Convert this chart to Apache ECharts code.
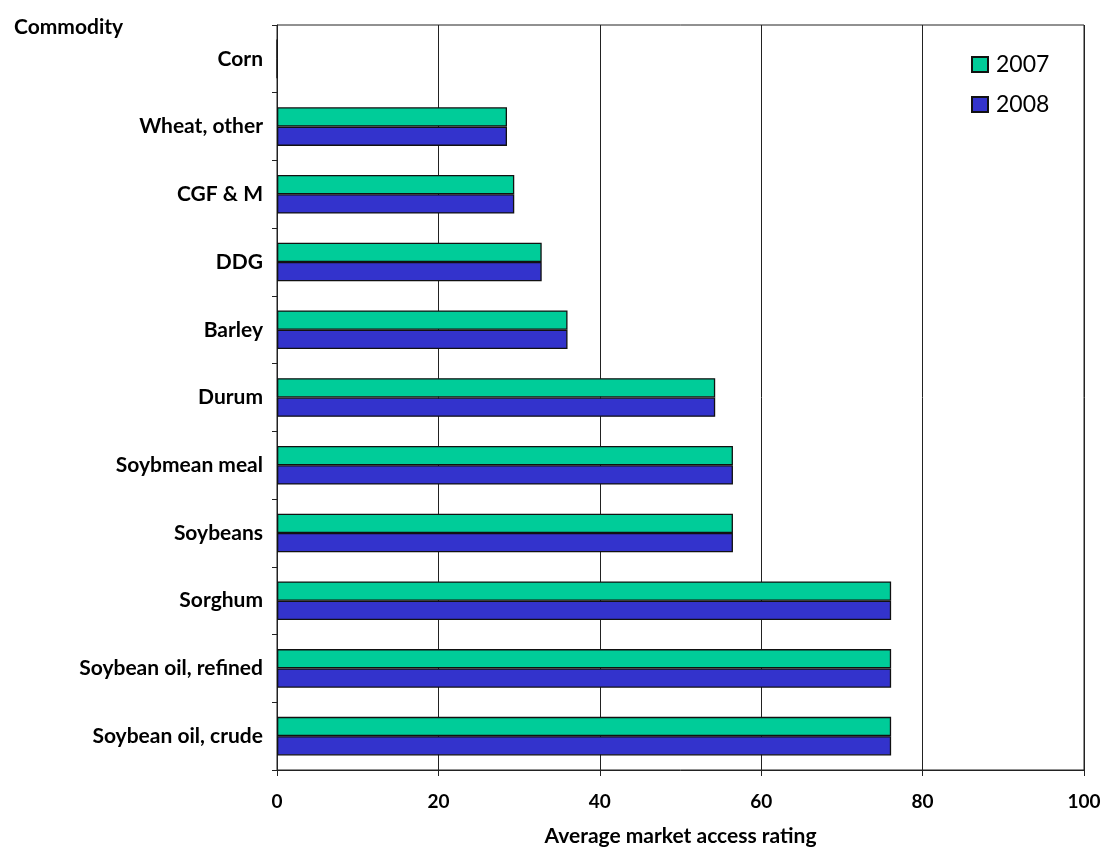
<!DOCTYPE html>
<html>
<head>
<meta charset="utf-8">
<script src="https://cdn.jsdelivr.net/npm/echarts@6/dist/echarts.min.js"></script>
<style>
  html, body { margin: 0; padding: 0; background: #fff; }
  #chart { width: 1104px; height: 848px; }
</style>
</head>
<body>
<div id="chart"></div>
<script>
// Commodities, listed top to bottom
const commodities = [
  'Corn', 'Wheat, other', 'CGF & M', 'DDG', 'Barley', 'Durum',
  'Soybmean meal', 'Soybeans', 'Sorghum', 'Soybean oil, refined', 'Soybean oil, crude'
];
const rating2007 = [0, 28.5, 29.4, 32.8, 36.0, 54.3, 56.5, 56.5, 76.1, 76.1, 76.1];
const rating2008 = [0, 28.5, 29.4, 32.8, 36.0, 54.3, 56.5, 56.5, 76.1, 76.1, 76.1];
const seriesNames = ['2007', '2008'];
const xTicks = { min: 0, max: 100, interval: 20 };

const FONT = 'Lato';
const chart = echarts.init(document.getElementById('chart'), null, { renderer: 'canvas' });

chart.setOption({
  backgroundColor: '#ffffff',
  animation: false,
  textStyle: { fontFamily: FONT },
  title: {
    text: 'Commodity',
    left: 9,
    top: 12,
    textStyle: { fontFamily: FONT, fontWeight: 'bold', fontSize: 21, color: '#000' }
  },
  legend: {
    data: seriesNames,
    orient: 'vertical',
    left: 966,
    top: 48,
    itemWidth: 16,
    itemHeight: 15,
    itemGap: 17,
    icon: 'rect',
    textStyle: { fontFamily: FONT, fontSize: 23, color: '#000', padding: [0, 0, 0, 3] }
  },
  grid: {
    left: 277,
    top: 25,
    right: 20,
    bottom: 78,
    outerBoundsMode: 'none',
    show: true,
    borderColor: '#222',
    borderWidth: 1
  },
  xAxis: {
    type: 'value',
    min: xTicks.min,
    max: xTicks.max,
    interval: xTicks.interval,
    name: 'Average market access rating',
    nameLocation: 'middle',
    nameGap: 56,
    nameTextStyle: { fontFamily: FONT, fontWeight: 'bold', fontSize: 21, color: '#000' },
    axisLine: { show: true, lineStyle: { color: '#222', width: 1 } },
    axisTick: { show: true, length: 6, lineStyle: { color: '#222' } },
    axisLabel: { margin: 22, fontFamily: FONT, fontWeight: 'bold', fontSize: 19, color: '#000' },
    splitLine: { show: true, lineStyle: { color: '#222', width: 1 } }
  },
  yAxis: {
    type: 'category',
    data: commodities,
    inverse: true,
    axisLine: { show: true, lineStyle: { color: '#222', width: 1 } },
    axisTick: { show: true, length: 5, inside: false, lineStyle: { color: '#222' } },
    axisLabel: { margin: 14, fontFamily: FONT, fontWeight: 'bold', fontSize: 21, color: '#000' },
    splitLine: { show: false }
  },
  series: [
    {
      name: seriesNames[0],
      type: 'bar',
      data: rating2007,
      barGap: '0%',
      barCategoryGap: '43%',
      itemStyle: { color: '#00CC99', borderColor: '#111', borderWidth: 1.3 }
    },
    {
      name: seriesNames[1],
      type: 'bar',
      data: rating2008,
      barGap: '0%',
      barCategoryGap: '43%',
      itemStyle: { color: '#3333CC', borderColor: '#111', borderWidth: 1.3 }
    }
  ]
});
</script>
</body>
</html>
